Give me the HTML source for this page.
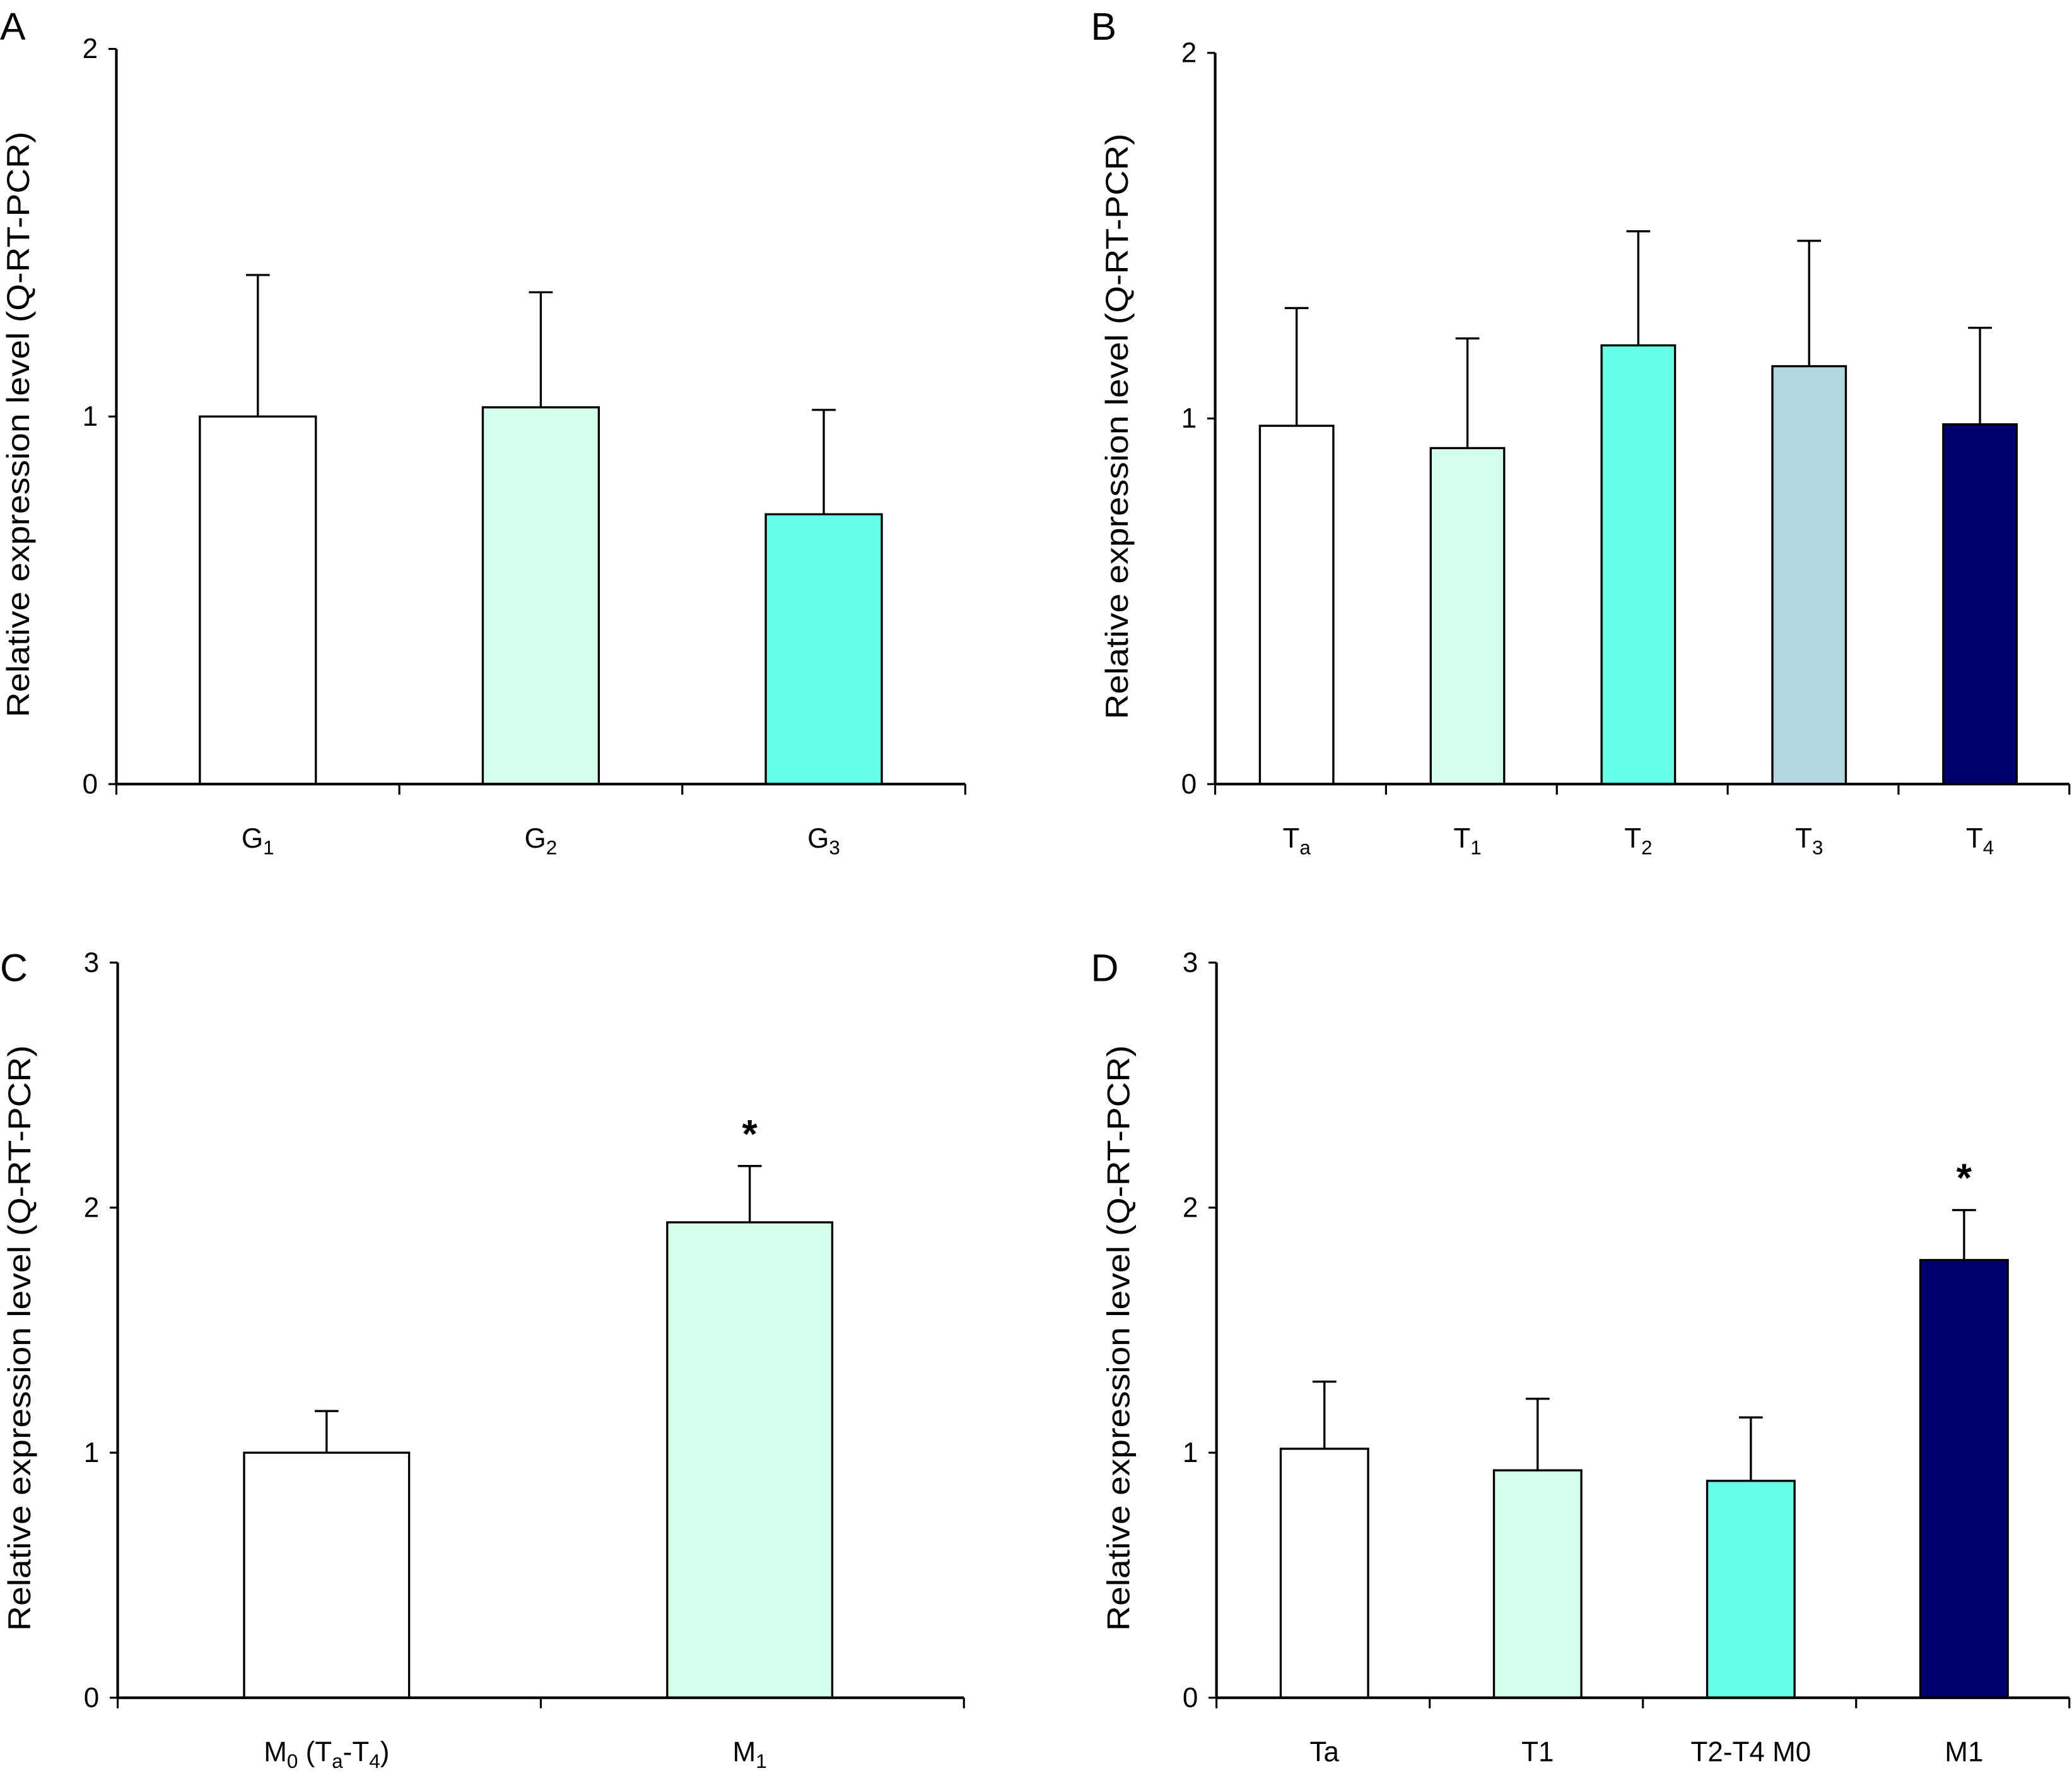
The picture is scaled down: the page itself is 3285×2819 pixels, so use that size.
<!DOCTYPE html>
<html><head><meta charset="utf-8"><style>
html,body{margin:0;padding:0;background:#fff;}
svg{display:block;}
text{font-family:"Liberation Sans",Arial,sans-serif;fill:#000;}
</style></head>
<body>
<svg id="fig" width="3285" height="2819" viewBox="0 0 1567 1344.7" xmlns="http://www.w3.org/2000/svg"></svg>
<script>
// Panel A data
const catsA = [["G","1"],["G","2"],["G","3"]];
const valsA = [1.0, 1.025, 0.734];
const errA = [1.385, 1.338, 1.018];
const ticksA = [0, 1, 2];
// Panel B data
const catsB = [["T","a"],["T","1"],["T","2"],["T","3"],["T","4"]];
const valsB = [0.98, 0.919, 1.20, 1.143, 0.984];
const errB = [1.302, 1.219, 1.512, 1.486, 1.248];
const ticksB = [0, 1, 2];
// Panel C data
const catsC = [["M","0"," (T","a","-T","4",")"],["M","1"]];
const valsC = [1.0, 1.94];
const errC = [1.17, 2.17];
const starsC = [false, true];
const ticksC = [0, 1, 2, 3];
// Panel D data
const catsD = [["Ta"],["T1"],["T2-T4 M0"],["M1"]];
const valsD = [1.016, 0.928, 0.885, 1.786];
const errD = [1.29, 1.22, 1.144, 1.99];
const starsD = [false, false, false, true];
const ticksD = [0, 1, 2, 3];

const colorsA = ["#ffffff","#d4fdea","#66ffe8"];
const colorsB = ["#ffffff","#d4fdea","#66ffe8","#b3d9e0","#000070"];
const colorsC = ["#ffffff","#d4fdea"];
const colorsD = ["#ffffff","#d4fdea","#66ffe8","#000070"];

const NS = "http://www.w3.org/2000/svg";
const svg = document.getElementById("fig");
function mk(tag, attrs, parent){
  const e = document.createElementNS(NS, tag);
  for (const k in attrs) e.setAttribute(k, attrs[k]);
  (parent||svg).appendChild(e);
  return e;
}
function labelText(g, parts, x, y){
  const t = mk("text", {x:x, y:y, "text-anchor":"middle", "font-size":21}, g);
  parts.forEach((p,i)=>{
    const ts = mk("tspan", {}, t);
    if (parts.length>1 && i%2===1){ ts.setAttribute("font-size","15"); ts.setAttribute("dy","5"); }
    else if (i>0){ ts.setAttribute("dy","-5"); }
    ts.textContent = p;
  });
  return t;
}
function panel(cfg){
  const g = mk("g", {});
  
  
  const y = v => cfg.y0 - (v / cfg.ymax) * (cfg.y0 - cfg.yTop);
  const n = cfg.cats.length;
  const band = (cfg.x1 - cfg.x0) / n;
  const xc = i => cfg.x0 + band * (i + 0.5) + (cfg.off||0);
  const L = mk("text", {x:cfg.lx, y:cfg.ly, "font-size":29}, g);
  L.textContent = cfg.letter;
  
  
  const T = mk("text", {x:0, y:0, "font-size":24, "text-anchor":"middle",
    transform:`translate(${cfg.x0-66},${(cfg.yTop+cfg.y0)/2+6}) rotate(-90)`,
    textLength:443, lengthAdjust:"spacingAndGlyphs"}, g);
  T.textContent = "Relative expression level (Q-RT-PCR)";
  
  
  cfg.vals.forEach((v,i)=>{
    const bw = band * cfg.frac;
    const r = mk("rect", {x:xc(i)-bw/2, y:y(v), width:bw, height:cfg.y0-y(v), fill:cfg.colors[i], stroke:"#000", "stroke-width":1.6}, g);
    
    
    const e = mk("path", {d:`M${xc(i)} ${y(v)}V${y(cfg.err[i])}M${xc(i)-9} ${y(cfg.err[i])}H${xc(i)+9}`, stroke:"#000", "stroke-width":1.6, fill:"none"}, g);
    
    
    if (cfg.stars && cfg.stars[i]){
      const s = mk("text", {x:xc(i), y:y(cfg.err[i])-14, "font-size":30, "font-weight":"bold", "text-anchor":"middle"}, g);
      s.textContent = "*";
      
      
    }
    const lt = labelText(g, cfg.cats[i], xc(i), cfg.y0 + 48);
    
    
  });
  const ax = mk("path", {d:`M${cfg.x0} ${cfg.yTop}V${cfg.y0}M${cfg.x0} ${cfg.y0}H${cfg.x1}`, stroke:"#000", "stroke-width":2, fill:"none"}, g);
  
  
  for (let i=0;i<=n;i++){
    const xx = cfg.x0 + band*i;
    mk("line", {x1:xx, x2:xx, y1:cfg.y0, y2:cfg.y0+8, stroke:"#000", "stroke-width":1.5}, g);
  }
  cfg.ticks.forEach(t=>{
    mk("line", {x1:cfg.x0-6, x2:cfg.x0, y1:y(t), y2:y(t), stroke:"#000", "stroke-width":1.5}, g);
    const tt = mk("text", {x:cfg.x0-14, y:y(t)+7, "font-size":21, "text-anchor":"end"}, g);
    tt.textContent = t;
    
    
  });
}
panel({letter:"A", lx:0, ly:30, x0:88, x1:730, yTop:37, y0:593, ymax:2, frac:0.41, cats:catsA, vals:valsA, err:errA, ticks:ticksA, colors:colorsA, off:0});
panel({letter:"B", lx:825, ly:30, x0:919, x1:1565, yTop:40, y0:593, ymax:2, frac:0.43, cats:catsB, vals:valsB, err:errB, ticks:ticksB, colors:colorsB, off:-3});
panel({letter:"C", lx:0, ly:742, x0:89, x1:729, yTop:728, y0:1284, ymax:3, frac:0.39, cats:catsC, vals:valsC, err:errC, stars:starsC, ticks:ticksC, colors:colorsC, off:-2});
panel({letter:"D", lx:825, ly:742, x0:920, x1:1565, yTop:728, y0:1284, ymax:3, frac:0.41, cats:catsD, vals:valsD, err:errD, stars:starsD, ticks:ticksD, colors:colorsD, off:1});
</script>
</body></html>
